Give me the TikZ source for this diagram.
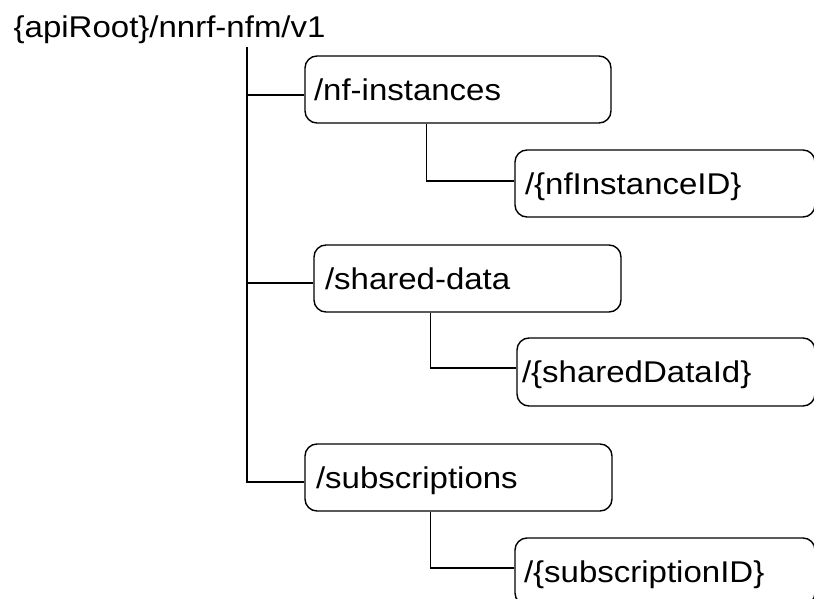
\documentclass[tikz,border=0pt]{standalone}
\usepackage{fontspec}
\setmainfont{Liberation Sans}[FakeStretch=1.1]
\begin{document}
\begin{tikzpicture}[x=1pt,y=-1pt,line width=1.4pt,
  res/.style n args={3}{draw,rounded corners=12pt,align=left,
     minimum width=#1,text width=#1-2*#3,inner xsep=#3,inner ysep=0pt,
     minimum height=#2,text height=21.5pt,text depth=0pt,
     font=\fontsize{30}{35}\selectfont},
  lbl/.style={inner sep=0pt,font=\fontsize{30}{35}\selectfont}]
\useasboundingbox (0,0) rectangle (814,599);
\clip (0,0) rectangle (814,599);
\node[lbl,anchor=base west] (root) at (13,37.3) {\{apiRoot\}/nnrf-nfm/v1};
\coordinate (trunk) at (247,47);
\node[res={306pt}{67pt}{9pt}] (b1) at (458,89.5) {/nf-instances};
\node[res={300pt}{67pt}{10pt}] (b2) at (665,183.5) {/\{nfInstanceID\}};
\node[res={307pt}{67pt}{11pt}] (b3) at (467.5,278.5) {/shared-data};
\node[res={298pt}{68pt}{5pt}] (b4) at (666,372) {/\{sharedDataId\}};
\node[res={307pt}{67pt}{11pt}] (b5) at (458.5,477.5) {/subscriptions};
\node[res={300pt}{67pt}{9pt}] (b6) at (665,571.5) {/\{subscriptionID\}};
% attach points
\coordinate (j1) at ([yshift=-5.5pt]b1.west);
\coordinate (j3) at ([yshift=-4.5pt]b3.west);
\coordinate (j5) at ([yshift=-4.5pt]b5.west);
\coordinate (k2) at ([yshift=2.5pt]b2.west);
\coordinate (k4) at ([yshift=4pt]b4.west);
\coordinate (k6) at ([yshift=3.5pt]b6.west);
\coordinate (s1) at ([xshift=122pt]b1.south west);
\coordinate (s3) at ([xshift=117pt]b3.south west);
\coordinate (s5) at ([xshift=126pt]b5.south west);
% trunk
\draw (trunk) |- (j5);
\draw (trunk |- j1) -- (j1);
\draw (trunk |- j3) -- (j3);
% children
\draw (s1) |- (k2);
\draw (s3) |- (k4);
\draw (s5) |- (k6);
\end{tikzpicture}
\end{document}
